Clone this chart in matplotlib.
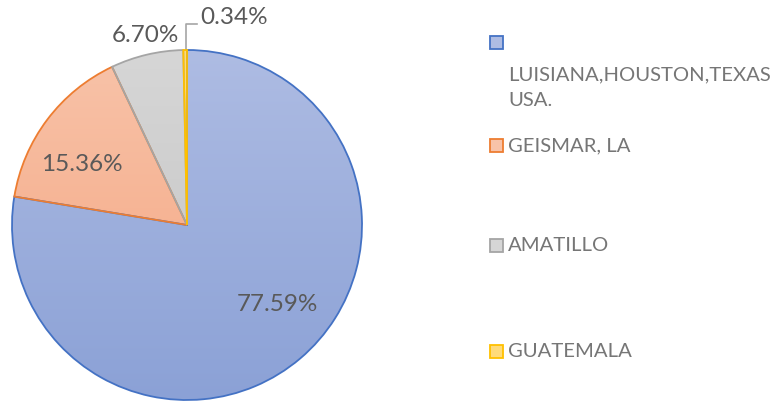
import matplotlib.pyplot as plt
import numpy as np
from matplotlib.patches import Rectangle

# datos
lugares = ["\nLUISIANA,HOUSTON,TEXAS\nUSA.", "GEISMAR, LA", "AMATILLO", "GUATEMALA"]
porcentajes = [77.59, 15.36, 6.70, 0.34]
bordes = ["#4472c4", "#ed7d31", "#a5a5a5", "#ffc000"]
claros = ["#aebce3", "#f8c3a9", "#d6d6d6", "#ffdb7a"]
oscuros = ["#8ba1d6", "#f4a47f", "#c3c3c3", "#ffc93c"]

plt.rcParams['font.family'] = ['Lato', 'DejaVu Sans']
W, H = 776, 402
fig = plt.figure(figsize=(W / 100, H / 100), dpi=100)
ax = fig.add_axes([12 / W, 1 / H, 350 / W, 350 / H])

wedges, _ = ax.pie(porcentajes, startangle=90, counterclock=False, radius=1,
                   wedgeprops=dict(linewidth=1.3))
for w, b, c1, c2 in zip(wedges, bordes, claros, oscuros):
    w.set_facecolor("none")
    w.set_edgecolor(b)
    w.set_zorder(3)
    # degradado vertical recortado a cada porcion
    grad = np.linspace(0, 1, 256).reshape(-1, 1)
    a = np.array(plt.matplotlib.colors.to_rgb(c1))
    z = np.array(plt.matplotlib.colors.to_rgb(c2))
    img = a + (z - a) * grad[:, :, None]
    im = ax.imshow(img, extent=(-1, 1, -1, 1), origin="upper", zorder=2, aspect="auto")
    fill = plt.matplotlib.patches.Wedge(w.center, w.r, w.theta1, w.theta2,
                                        transform=ax.transData, facecolor="none", edgecolor="none")
    ax.add_patch(fill)
    im.set_clip_path(fill)

ax.set_xlim(-1, 1)
ax.set_ylim(-1, 1)
ax.set_aspect("equal")
ax.axis("off")

txt = dict(color="#595959", fontsize=17.5)
etiquetas = ["%.2f%%" % p for p in porcentajes]
ax.text(0.514, -0.446, etiquetas[0], ha="center", va="center", **txt)
ax.text(-0.60, 0.349, etiquetas[1], ha="center", va="center", **txt)
ax.text(-0.24, 1.09, etiquetas[2], ha="center", va="center", **txt)
ax.text(0.074, 1.189, etiquetas[3], ha="left", va="center", **txt)
ax.plot([-0.005, -0.005, 0.057], [1.0, 1.149, 1.149], color="#a6a6a6", lw=1.2, clip_on=False)

# leyenda manual
ley = dict(color="#767676", fontsize=14.6)
ys = [43, 146, 246, 352]
for i, (lab, y) in enumerate(zip(lugares, ys)):
    fig.patches.append(Rectangle((490 / W, 1 - (y + 6.5) / H), 13 / W, 13 / H,
                                 transform=fig.transFigure, facecolor=claros[i],
                                 edgecolor=bordes[i], linewidth=1.3))
    if i == 0:
        fig.text(508 / W, 1 - 75 / H, "LUISIANA,HOUSTON,TEXAS", ha="left", va="center", **ley)
        fig.text(508 / W, 1 - 100 / H, "USA.", ha="left", va="center", **ley)
    else:
        fig.text(508 / W, 1 - y / H, lab, ha="left", va="center", **ley)

fig.savefig("out.png", dpi=100)
